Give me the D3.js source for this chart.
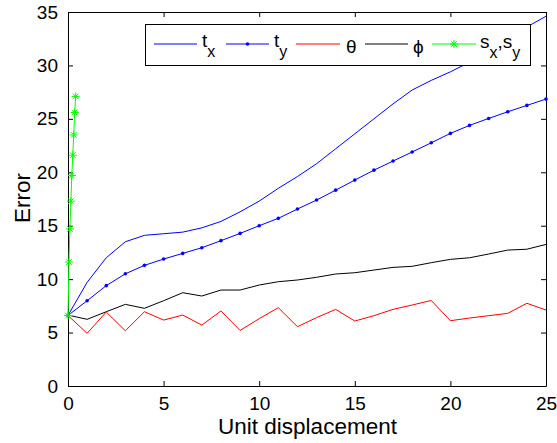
<!DOCTYPE html>
<html><head><meta charset="utf-8">
<script src="https://cdn.jsdelivr.net/npm/d3@7"></script>
<style>body{margin:0;background:#fff}svg{display:block}text{font-family:"Liberation Sans",Arial,sans-serif;fill:#000}</style>
</head><body><svg id="c" width="557" height="443"></svg>
<script>
const xTicks = [0,5,10,15,20,25];
const yTicks = [0,5,10,15,20,25,30,35];
const xInt = d3.range(0,26);
const tx = [6.6,9.7,12.0,13.5,14.1,14.25,14.4,14.8,15.4,16.3,17.3,18.5,19.6,20.8,22.2,23.6,25.0,26.4,27.7,28.6,29.4,30.3,31.4,32.5,33.6,34.6];
const ty = [6.6,7.98,9.39,10.5,11.29,11.88,12.41,12.94,13.6,14.28,15.0,15.69,16.56,17.4,18.33,19.27,20.2,21.05,21.9,22.76,23.64,24.39,25.04,25.66,26.26,26.85];
const theta = [6.6,4.93,6.92,5.17,6.95,6.17,6.64,5.7,7.02,5.2,6.3,7.33,5.55,6.4,7.17,6.08,6.58,7.17,7.58,8.0,6.11,6.36,6.58,6.8,7.74,7.11];
const phi = [6.64,6.24,6.95,7.64,7.27,7.98,8.73,8.42,8.98,8.98,9.45,9.76,9.92,10.17,10.48,10.6,10.85,11.1,11.2,11.54,11.85,12.0,12.35,12.72,12.8,13.25];
const sX = [0,0.05,0.1,0.15,0.2,0.25,0.3,0.35,0.4];
const sY = [6.6,11.6,14.7,17.3,19.7,21.6,23.5,25.6,27.1];

const svg = d3.select("#c");
const L=68,R=546,T=12,B=386;
const x = d3.scaleLinear().domain([0,25]).range([L,R]);
const y = d3.scaleLinear().domain([0,35]).range([B,T]);

const tl = 5;
svg.append("g").attr("transform",`translate(0,${B})`)
  .call(d3.axisBottom(x).tickValues(xTicks).tickSizeInner(-tl).tickSizeOuter(0).tickPadding(11))
  .call(g=>g.selectAll("text").attr("font-size",19));
svg.append("g").attr("transform",`translate(0,${T})`)
  .call(d3.axisTop(x).tickValues(xTicks).tickSizeInner(-tl).tickSizeOuter(0).tickFormat(""));
svg.append("g").attr("transform",`translate(${L},0)`)
  .call(d3.axisLeft(y).tickValues(yTicks).tickSizeInner(-tl).tickSizeOuter(0).tickPadding(10))
  .call(g=>g.selectAll("text").attr("font-size",19));
svg.append("g").attr("transform",`translate(${R},0)`)
  .call(d3.axisRight(y).tickValues(yTicks).tickSizeInner(-tl).tickSizeOuter(0).tickFormat(""));
svg.selectAll(".domain").attr("stroke","#000").attr("stroke-width",1);
svg.selectAll(".tick line").attr("stroke","#000");
svg.selectAll(".tick text").attr("font-family","Liberation Sans, Arial, sans-serif").attr("fill","#000");

svg.append("text").attr("x",307.5).attr("y",434).attr("text-anchor","middle").attr("font-size",22.5).text("Unit displacement");
svg.append("text").attr("transform","translate(29.5,198) rotate(-90)").attr("text-anchor","middle").attr("font-size",22.5).text("Error");

const line = d3.line().x(d=>x(d[0])).y(d=>y(d[1]));
const gL = svg.append("g");
function draw(xs, ys, color){
  gL.append("path").datum(xs.map((v,i)=>[v,ys[i]])).attr("d",line)
    .attr("fill","none").attr("stroke",color).attr("stroke-width",1);
}
draw(xInt, tx, "#0000ff");
draw(xInt, ty, "#0000ff");
gL.selectAll(".tyDot").data(xInt.map((v,i)=>[v,ty[i]])).enter().append("circle")
  .attr("cx",d=>x(d[0])).attr("cy",d=>y(d[1])).attr("r",1.8).attr("fill","#0000ff");
draw(xInt, phi, "#000000");
draw(xInt, theta, "#ff0000");
draw(sX, sY, "#00ff00");
function star(g, cx, cy, s, color){
  const a = s, b = s*0.707;
  const p = `M${cx-a},${cy}L${cx+a},${cy}M${cx},${cy-a}L${cx},${cy+a}M${cx-b},${cy-b}L${cx+b},${cy+b}M${cx-b},${cy+b}L${cx+b},${cy-b}`;
  g.append("path").attr("d",p).attr("stroke",color).attr("stroke-width",1).attr("fill","none");
}
sX.forEach((v,i)=>star(gL, x(v), y(sY[i]), 4, "#00ff00"));

const lg = svg.append("g");
lg.append("rect").attr("x",145.5).attr("y",24.5).attr("width",385).attr("height",41).attr("fill","#fff").attr("stroke","#000").attr("stroke-width",1);
const ly = 44;
const items = [
  {x1:154,x2:197,c:"#0000ff",mk:null},
  {x1:226,x2:269,c:"#0000ff",mk:"dot"},
  {x1:296,x2:340,c:"#ff0000",mk:null},
  {x1:365,x2:408,c:"#000000",mk:null},
  {x1:432,x2:476,c:"#00ff00",mk:"star"}
];
items.forEach(it=>{
  lg.append("line").attr("x1",it.x1).attr("x2",it.x2).attr("y1",ly).attr("y2",ly).attr("stroke",it.c).attr("stroke-width",1);
  const mx=(it.x1+it.x2)/2;
  if(it.mk==="dot") lg.append("circle").attr("cx",mx).attr("cy",ly).attr("r",1.8).attr("fill",it.c);
  if(it.mk==="star") star(lg,mx,ly,4,it.c);
});
function sub(t, main, s){ t.append("tspan").text(main); t.append("tspan").attr("dy",10).attr("font-size",16).text(s); }
let t1 = lg.append("text").attr("x",202).attr("y",47).attr("font-size",19); sub(t1,"t","x");
let t2 = lg.append("text").attr("x",274).attr("y",47).attr("font-size",19); sub(t2,"t","y");
lg.append("text").attr("x",346).attr("y",53).attr("font-size",19).text("θ");
lg.append("text").attr("x",413).attr("y",53).attr("font-size",19).text("ϕ");
let t5 = lg.append("text").attr("x",480).attr("y",48).attr("font-size",19);
t5.append("tspan").text("s");
t5.append("tspan").attr("dy",10).attr("font-size",16).text("x");
t5.append("tspan").attr("dy",-10).text(",s");
t5.append("tspan").attr("dy",10).attr("font-size",16).text("y");
</script></body></html>
